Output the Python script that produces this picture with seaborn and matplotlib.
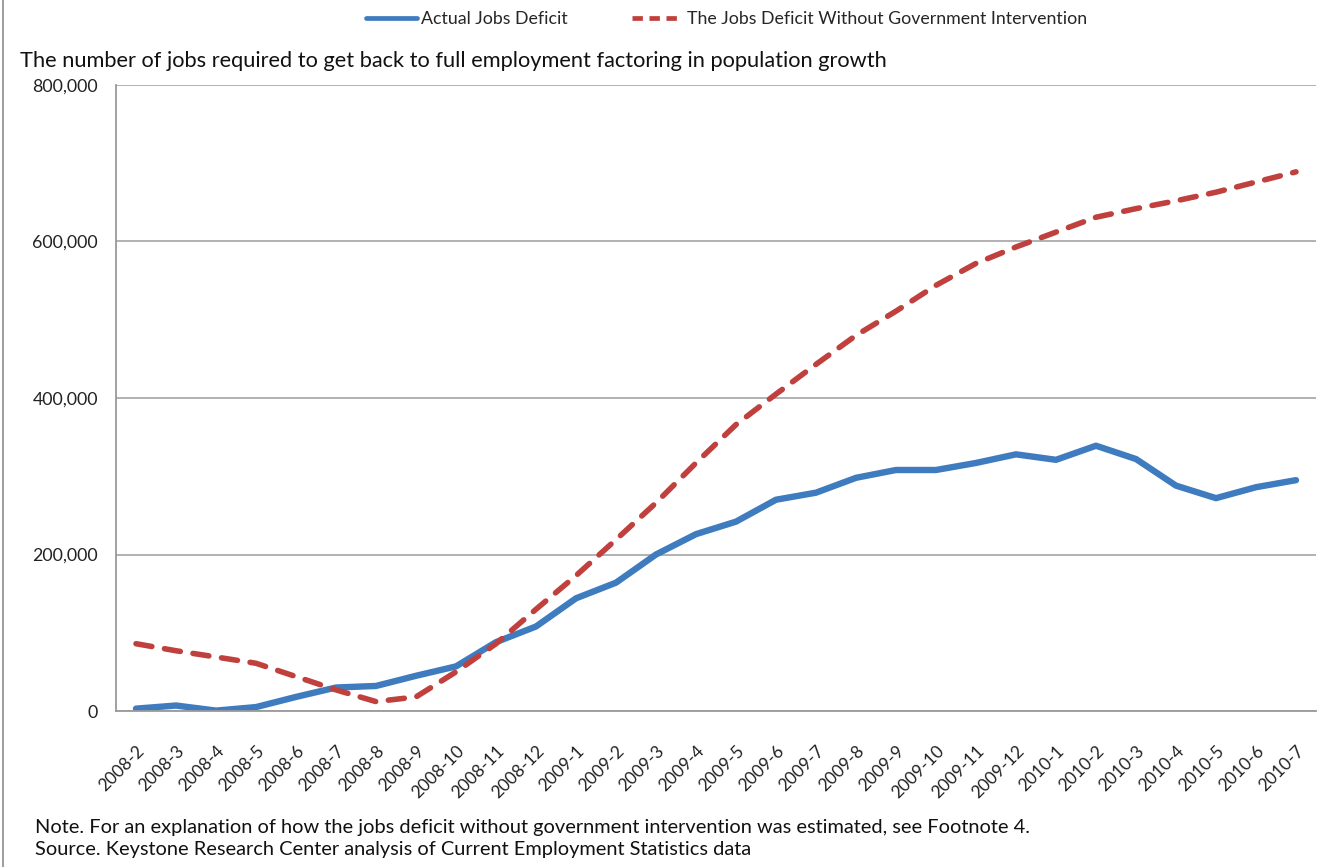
import matplotlib
matplotlib.use("Agg")
import matplotlib.pyplot as plt
import seaborn as sns
import pandas as pd
import numpy as np
from matplotlib.lines import Line2D
from matplotlib.ticker import FuncFormatter, FixedLocator

months = ["2008-2", "2008-3", "2008-4", "2008-5", "2008-6", "2008-7", "2008-8", "2008-9",
          "2008-10", "2008-11", "2008-12", "2009-1", "2009-2", "2009-3", "2009-4", "2009-5",
          "2009-6", "2009-7", "2009-8", "2009-9", "2009-10", "2009-11", "2009-12", "2010-1",
          "2010-2", "2010-3", "2010-4", "2010-5", "2010-6", "2010-7"]

actual_deficit = [3000, 7000, 500, 5000, 18000, 30000, 32000, 45000, 57000, 88000, 108000,
                  144000, 164000, 200000, 226000, 242000, 270000, 279000, 298000, 308000,
                  308000, 317000, 328000, 321000, 339000, 322000, 288000, 272000, 286000, 295000]

no_intervention = [86000, 77000, 69000, 61000, 44000, 27000, 12000, 18000, 50000, 86000,
                   130000, 173000, 219000, 266000, 317000, 366000, 405000, 443000, 480000,
                   511000, 544000, 572000, 593000, 612000, 631000, 642000, 652000, 663000,
                   676000, 689000]

series_names = ["Actual Jobs Deficit", "The Jobs Deficit Without Government Intervention"]
title_text = "The number of jobs required to get back to full employment factoring in population growth"
note_lines = ["Note. For an explanation of how the jobs deficit without government intervention was estimated, see Footnote 4.",
              "Source. Keystone Research Center analysis of Current Employment Statistics data"]

blue = "#3E7BBF"
red = "#C0403D"

sns.set_style("white")
plt.rcParams['font.family'] = ['Lato', 'DejaVu Sans']

df = pd.DataFrame({
    "idx": list(range(len(months))) * 2,
    "value": actual_deficit + no_intervention,
    "series": [series_names[0]] * len(months) + [series_names[1]] * len(months),
})

fig = plt.figure(figsize=(13.18, 8.67), dpi=100)
ax = fig.add_axes([116 / 1318, 1 - 711 / 867, 1200 / 1318, (711 - 85) / 867])

sns.lineplot(data=df[df.series == series_names[0]], x="idx", y="value", ax=ax,
             color=blue, linewidth=4.6, legend=False, solid_capstyle="round",
             solid_joinstyle="round")
sns.lineplot(data=df[df.series == series_names[1]], x="idx", y="value", ax=ax,
             color=red, linewidth=4.0, legend=False, dashes=False)
ax.lines[-1].set_dashes([2.9, 2.3])
ax.lines[-1].set_dash_capstyle("round")

ax.set_xlim(-0.5, len(months) - 0.5)
ax.set_ylim(0, 800000)
ax.set_xlabel("")
ax.set_ylabel("")

ax.yaxis.set_major_locator(FixedLocator([0, 200000, 400000, 600000, 800000]))
ax.yaxis.set_major_formatter(FuncFormatter(lambda v, p: f"{int(v):,}"))
ax.grid(axis="y", color="#ABABAB", linewidth=1.3)
ax.set_axisbelow(True)

ax.set_xticks(np.arange(len(months)))
ax.set_xticklabels(months, rotation=45, ha="right", rotation_mode="anchor", fontsize=12.5, color="#222222")
ax.set_xticks(np.arange(-0.5, len(months), 1), minor=True)
ax.tick_params(axis="x", which="major", length=0, pad=23)
ax.tick_params(axis="x", which="minor", length=6, width=1.2, color="#9A9A9A")
ax.tick_params(axis="y", length=7, width=1.2, color="#9A9A9A", labelsize=12.8, labelcolor="#222222", pad=6)

for s in ["top", "right"]:
    ax.spines[s].set_visible(False)
for s in ["left", "bottom"]:
    ax.spines[s].set_color("#9A9A9A")
    ax.spines[s].set_linewidth(1.3)

fig.text(20 / 1318, 1 - 61 / 867, title_text, fontsize=15.7, color="#111111", va="center", ha="left")

handles = [Line2D([], [], color=blue, linewidth=3.4),
           Line2D([], [], color=red, linewidth=3.4, linestyle=(0, (2.2, 1.4)))]
fig.legend(handles, series_names, loc="center", bbox_to_anchor=(0.551, 1 - 19 / 867), ncol=2,
           frameon=False, fontsize=12.8, handlelength=2.9, handletextpad=0.2, columnspacing=3.6)

fig.text(35 / 1318, 1 - 828 / 867, note_lines[0], fontsize=14.4, color="#111111", va="center")
fig.text(35 / 1318, 1 - 849 / 867, note_lines[1], fontsize=14.4, color="#111111", va="center")

fig.add_artist(Line2D([3 / 1318, 3 / 1318], [0, 1], color="#8C8C8C", linewidth=1.2, transform=fig.transFigure))

fig.savefig("out.png", dpi=100, facecolor="white")
